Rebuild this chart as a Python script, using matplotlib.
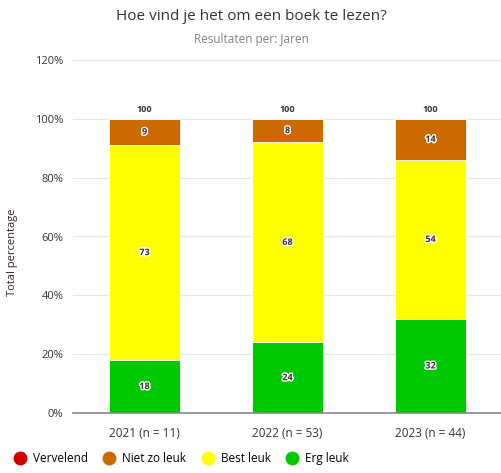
import matplotlib.pyplot as plt
import matplotlib.patheffects as pe
import numpy as np

plt.rcParams['font.family'] = ['Open Sans', 'DejaVu Sans']

categories = ["2021 (n = 11)", "2022 (n = 53)", "2023 (n = 44)"]
series = ["Vervelend", "Niet zo leuk", "Best leuk", "Erg leuk"]
colors = ["#d40000", "#cc6a00", "#ffff00", "#00c800"]
vervelend = [0, 0, 0]
niet_zo_leuk = [9, 8, 14]
best_leuk = [73, 68, 54]
erg_leuk = [18, 24, 32]
totals = [100, 100, 100]

fig = plt.figure(figsize=(5.02, 4.73), dpi=100)
ax = fig.add_axes([73 / 502, 60 / 473, 429 / 502, 353 / 473])

x = np.arange(len(categories))
width = 0.49
halo = [pe.withStroke(linewidth=2, foreground="white")]

bottom = np.zeros(3)
# stack from bottom: Erg leuk, Best leuk, Niet zo leuk, Vervelend
for name, vals, col in [("Erg leuk", erg_leuk, colors[3]),
                        ("Best leuk", best_leuk, colors[2]),
                        ("Niet zo leuk", niet_zo_leuk, colors[1]),
                        ("Vervelend", vervelend, colors[0])]:
    vals = np.array(vals, dtype=float)
    ax.bar(x, vals, width, bottom=bottom, color=col, edgecolor="white", linewidth=0.6, zorder=2)
    for xi, b, v in zip(x, bottom, vals):
        if v > 0:
            ax.text(xi, b + v / 2, f"{int(v)}", ha="center", va="center", fontsize=6.5,
                    fontweight="bold", color="#333333", path_effects=halo, zorder=3)
    bottom += vals

for xi, t in zip(x, totals):
    ax.text(xi, t + 1.5, str(t), ha="center", va="bottom", fontsize=6.5,
            fontweight="bold", color="#333333", zorder=3)

ax.set_xlim(-0.5, 2.5)
ax.set_ylim(0, 120)
ax.set_yticks(np.arange(0, 121, 20))
ax.set_yticklabels([f"{v}%" for v in range(0, 121, 20)], fontsize=8, color="#333333")
ax.set_xticks(x)
ax.set_xticklabels(categories, fontsize=8.5, color="#333333")
ax.tick_params(axis="both", length=0)
ax.tick_params(axis="x", pad=10)
ax.tick_params(axis="y", pad=7)
ax.grid(axis="y", color="#e6e6e6", linewidth=0.8, zorder=0)
for s in ["top", "right", "left"]:
    ax.spines[s].set_visible(False)
ax.spines["bottom"].set_color("#888888")
ax.spines["bottom"].set_linewidth(1.2)
ax.set_ylabel("Total percentage", fontsize=8, color="#3a2020")
ax.yaxis.set_label_coords(-0.128, 0.455)

fig.text(0.5, 1 - 17 / 473, "Hoe vind je het om een boek te lezen?", ha="center", va="center",
         fontsize=11, color="#333333")
fig.text(0.5, 1 - 40 / 473, "Resultaten per: Jaren", ha="center", va="center",
         fontsize=8.5, color="#808080")

handles = [plt.Line2D([], [], marker="o", linestyle="", markersize=9, color=c) for c in colors]
fig.legend(handles, series, loc="lower left", bbox_to_anchor=(0.0, 0.0), ncol=4, frameon=False,
           fontsize=8.5, handletextpad=0.1, columnspacing=0.8, borderaxespad=0.3)

fig.savefig("out.png", dpi=100)
